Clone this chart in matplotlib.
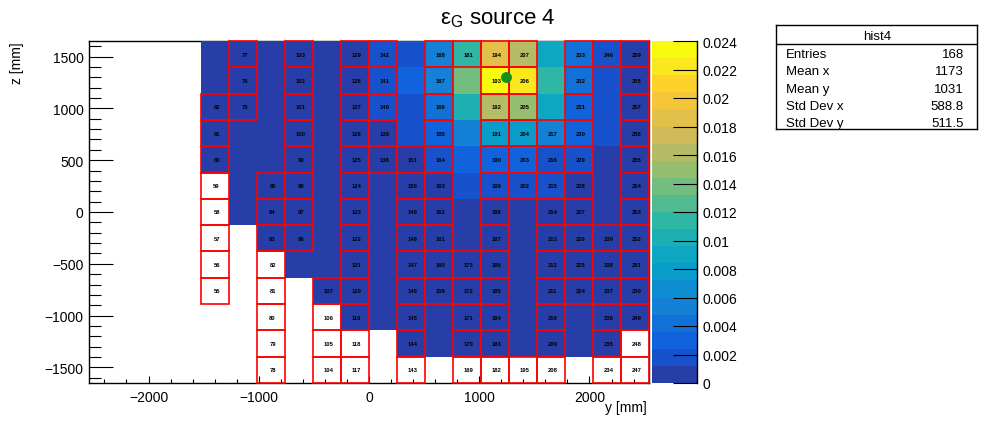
import numpy as np
import matplotlib.pyplot as plt
from matplotlib.colors import LinearSegmentedColormap, ListedColormap, BoundaryNorm
from matplotlib.patches import Rectangle
from matplotlib.ticker import MultipleLocator

plt.rcParams['font.family'] = ['Liberation Sans', 'DejaVu Sans']

# binning: 20 columns in y, 13 rows in z, 254 mm cells
y_edges = np.arange(-2540, 2541, 254)
z_edges = np.arange(-1651, 1652, 254)
first_col = 4  # columns 0..3 are empty

# efficiency per cell, rows from top (z=+1524) down, columns y=-1397 .. 2413
eff_rows = [
    [0.0004, 0.0004, 0.0004, 0.0004, 0.0004, 0.0004, 0.0018, 0.0018, 0.0054, 0.0114, 0.0186, 0.0162, 0.0090, 0.0042, 0.0018, 0.0004],
    [0.0004, 0.0004, 0.0004, 0.0004, 0.0004, 0.0004, 0.0018, 0.0030, 0.0054, 0.0138, 0.0234, 0.0222, 0.0114, 0.0042, 0.0018, 0.0004],
    [0.0004, 0.0004, 0.0004, 0.0004, 0.0004, 0.0004, 0.0018, 0.0018, 0.0042, 0.0102, 0.0162, 0.0150, 0.0090, 0.0030, 0.0018, 0.0004],
    [0.0004, 0.0004, 0.0004, 0.0004, 0.0004, 0.0004, 0.0004, 0.0018, 0.0030, 0.0054, 0.0078, 0.0078, 0.0054, 0.0030, 0.0018, 0.0004],
    [0.0004, 0.0004, 0.0004, 0.0004, 0.0004, 0.0004, 0.0004, 0.0004, 0.0018, 0.0030, 0.0030, 0.0030, 0.0018, 0.0018, 0.0004, 0.0004],
    [0, 0.0004, 0.0004, 0.0004, 0.0004, 0.0004, 0.0004, 0.0004, 0.0004, 0.0018, 0.0018, 0.0018, 0.0018, 0.0004, 0.0004, 0.0004],
    [0, 0.0004, 0.0004, 0.0004, 0.0004, 0.0004, 0.0004, 0.0004, 0.0004, 0.0004, 0.0004, 0.0004, 0.0004, 0.0004, 0.0004, 0.0004],
    [0, 0, 0.0004, 0.0004, 0.0004, 0.0004, 0.0004, 0.0004, 0.0004, 0.0004, 0.0004, 0.0004, 0.0004, 0.0004, 0.0004, 0.0004],
    [0, 0, 0, 0.0004, 0.0004, 0.0004, 0.0004, 0.0004, 0.0004, 0.0004, 0.0004, 0.0004, 0.0004, 0.0004, 0.0004, 0.0004],
    [0, 0, 0, 0, 0.0004, 0.0004, 0.0004, 0.0004, 0.0004, 0.0004, 0.0004, 0.0004, 0.0004, 0.0004, 0.0004, 0.0004],
    [0, 0, 0, 0, 0, 0.0004, 0.0004, 0.0004, 0.0004, 0.0004, 0.0004, 0.0004, 0.0004, 0.0004, 0.0004, 0.0004],
    [0, 0, 0, 0, 0, 0, 0, 0.0004, 0.0004, 0.0004, 0.0004, 0.0004, 0.0004, 0.0004, 0.0004, 0],
    [0, 0, 0, 0, 0, 0, 0, 0, 0, 0, 0, 0, 0, 0, 0, 0],
]

# channel ids printed in the cells (0 = no channel)
id_rows = [
    [0, 77, 0, 103, 0, 129, 142, 0, 168, 181, 194, 207, 0, 233, 246, 259],
    [0, 76, 0, 102, 0, 128, 141, 0, 167, 0, 193, 206, 0, 232, 0, 258],
    [62, 75, 0, 101, 0, 127, 140, 0, 166, 0, 192, 205, 0, 231, 0, 257],
    [61, 0, 0, 100, 0, 126, 139, 0, 165, 0, 191, 204, 217, 230, 0, 256],
    [60, 0, 0, 99, 0, 125, 138, 151, 164, 0, 190, 203, 216, 229, 0, 255],
    [59, 0, 85, 98, 0, 124, 0, 150, 163, 0, 189, 202, 215, 228, 0, 254],
    [58, 0, 84, 97, 0, 123, 0, 149, 162, 0, 188, 0, 214, 227, 0, 253],
    [57, 0, 83, 96, 0, 122, 0, 148, 161, 0, 187, 0, 213, 226, 239, 252],
    [56, 0, 82, 0, 0, 121, 0, 147, 160, 173, 186, 0, 212, 225, 238, 251],
    [55, 0, 81, 0, 107, 120, 0, 146, 159, 172, 185, 0, 211, 224, 237, 250],
    [0, 0, 80, 0, 106, 119, 0, 145, 0, 171, 184, 0, 210, 0, 236, 249],
    [0, 0, 79, 0, 105, 118, 0, 144, 0, 170, 183, 0, 209, 0, 235, 248],
    [0, 0, 78, 0, 104, 117, 0, 143, 0, 169, 182, 195, 208, 0, 234, 247],
]

source_pos = (1240, 1305)

stat_names = ['Entries', 'Mean x', 'Mean y', 'Std Dev x', 'Std Dev y']
stat_values = ['168', '1173', '1031', '588.8', '511.5']

# ROOT kBird palette, 20 contour bands
stops = [0.0, 0.125, 0.25, 0.375, 0.5, 0.625, 0.75, 0.875, 1.0]
red = [0.2082, 0.0592, 0.0780, 0.0232, 0.1802, 0.5301, 0.8186, 0.9956, 0.9764]
green = [0.1664, 0.3599, 0.5041, 0.6419, 0.7178, 0.7492, 0.7328, 0.7862, 0.9832]
blue = [0.5293, 0.8684, 0.8385, 0.7914, 0.6425, 0.4662, 0.3499, 0.1968, 0.0539]
bird = LinearSegmentedColormap.from_list('bird', list(zip(stops, zip(red, green, blue))), N=255)
ncont = 20
cmap = ListedColormap([bird(int((k + 0.99) * 255 / ncont)) for k in range(ncont)])
zmax = 0.024
norm = BoundaryNorm(np.linspace(0, zmax, ncont + 1), ncont)

# full grid, bottom row first for pcolormesh
ncols = len(y_edges) - 1
eff = np.zeros((len(z_edges) - 1, ncols))
eff[:, first_col:] = np.array(eff_rows)[::-1]
eff = np.ma.masked_equal(eff, 0)

fig = plt.figure(figsize=(9.96, 4.27), dpi=100)
ax = fig.add_axes([89 / 996, 1 - 384 / 427, 560 / 996, 342 / 427])
cax = fig.add_axes([652 / 996, 1 - 384 / 427, 45 / 996, 342 / 427])

mesh = ax.pcolormesh(y_edges, z_edges, eff, cmap=cmap, norm=norm, zorder=1)
ax.set_xlim(y_edges[0], y_edges[-1])
ax.set_ylim(z_edges[0], z_edges[-1])

# cell outlines and ids
yc = 0.5 * (y_edges[:-1] + y_edges[1:])
zc = 0.5 * (z_edges[:-1] + z_edges[1:])[::-1]
for r, row in enumerate(id_rows):
    for c, cid in enumerate(row):
        if cid == 0:
            continue
        j = c + first_col
        ax.add_patch(Rectangle((y_edges[j], zc[r] - 127), 254, 254, fill=False,
                               edgecolor='#ff0000', lw=1.2, zorder=4, clip_on=False))
        ax.text(yc[j] + 15, zc[r], str(cid), fontsize=4.2, fontweight='bold',
                ha='center', va='center', color='black', zorder=5)

ax.plot(*source_pos, 'o', color='#12901a', markersize=6.8, zorder=6)

# frame: top/right lines hidden under filled cells like in ROOT
for s in ['top', 'right']:
    ax.spines[s].set_zorder(0.5)
for s in ax.spines.values():
    s.set_linewidth(1.0)

ax.xaxis.set_major_locator(MultipleLocator(1000))
ax.xaxis.set_minor_locator(MultipleLocator(200))
ax.yaxis.set_major_locator(MultipleLocator(500))
ax.yaxis.set_minor_locator(MultipleLocator(100))
ax.tick_params(axis='both', which='both', direction='in', top=False, right=False,
               labelsize=10, width=0.8)
ax.tick_params(axis='x', which='major', length=5.2, pad=5)
ax.tick_params(axis='x', which='minor', length=2.9)
ax.tick_params(axis='y', which='major', length=17, pad=4)
ax.tick_params(axis='y', which='minor', length=8.5)

# palette
cb = fig.colorbar(mesh, cax=cax, ticks=np.arange(0, zmax + 1e-9, 0.002))
cb.outline.set_visible(False)
cb.ax.set_yticklabels(['%g' % round(t, 3) for t in np.arange(0, zmax + 1e-9, 0.002)])
cb.ax.tick_params(direction='in', length=17, width=0.8, labelsize=10, pad=4)
cb.ax.minorticks_off()
cax.plot([1, 1], [0, 1], transform=cax.transAxes, color='black', lw=1, clip_on=False)

# titles
fig.text(498 / 996, 1 - 24 / 427, 'ε$_\\mathregular{G}$ source 4', fontsize=16,
         ha='center', va='baseline')
fig.text(647 / 996, 1 - 408 / 427, 'y [mm]', fontsize=10, ha='right', va='center')
fig.text(17 / 996, 1 - 42 / 427, 'z [mm]', fontsize=10, ha='center', va='top', rotation=90)

# stats box
sax = fig.add_axes([776 / 996, 1 - 130 / 427, 201 / 996, 104 / 427])
sax.set_xlim(0, 201)
sax.set_ylim(104, 0)
sax.set_xticks([])
sax.set_yticks([])
for s in sax.spines.values():
    s.set_linewidth(1.0)
sax.plot([0, 201], [19, 19], color='black', lw=1.0)
sax.text(101, 10.5, 'hist4', fontsize=9.5, ha='center', va='center')
for i, (name, val) in enumerate(zip(stat_names, stat_values)):
    yy = 29 + i * 17.3
    sax.text(10, yy, name, fontsize=9.5, ha='left', va='center')
    sax.text(188, yy, val, fontsize=9.5, ha='right', va='center')

fig.savefig('out.png', dpi=100)
